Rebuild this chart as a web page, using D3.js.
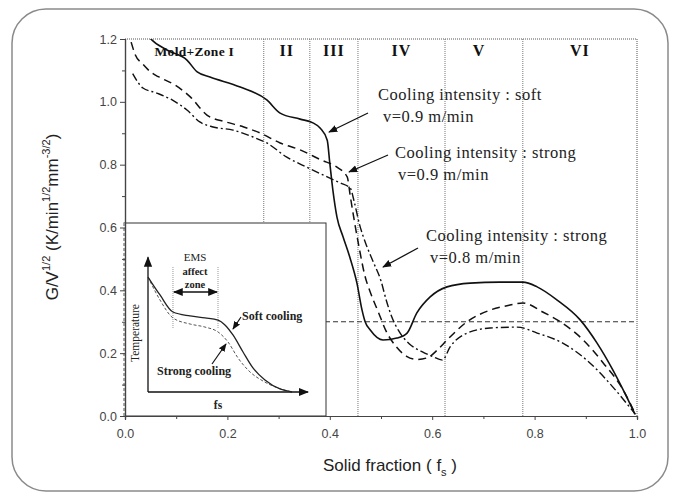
<!DOCTYPE html>
<html>
<head>
<meta charset="utf-8">
<script src="https://cdn.jsdelivr.net/npm/d3@7"></script>
<style>
  body { margin: 0; background: #fff; }
  svg { display: block; }
  .tick text { font-family: "Liberation Sans", Arial, sans-serif; font-size: 12.5px; fill: #444; }
  .axis path, .axis line { stroke: #444; }
</style>
</head>
<body>
<svg id="chart" width="673" height="496"></svg>
<script>
// main curves: [solid fraction, G/V^1/2]
const softV09 = [
  [0.03, 1.25], [0.049, 1.203], [0.082, 1.165], [0.121, 1.133], [0.141, 1.095], [0.166, 1.079],
  [0.225, 1.047], [0.277, 1.006], [0.303, 0.964], [0.342, 0.945], [0.367, 0.933], [0.381, 0.917],
  [0.395, 0.878], [0.400, 0.805], [0.406, 0.719], [0.414, 0.633], [0.426, 0.570], [0.439, 0.506],
  [0.453, 0.423], [0.463, 0.337], [0.469, 0.300], [0.479, 0.274], [0.504, 0.242], [0.531, 0.248],
  [0.551, 0.264], [0.570, 0.328], [0.596, 0.379], [0.629, 0.411], [0.674, 0.423], [0.732, 0.426],
  [0.777, 0.426], [0.805, 0.411], [0.844, 0.369], [0.889, 0.306], [0.922, 0.232], [0.953, 0.146],
  [0.973, 0.083], [0.996, 0.006]
];
const strongV09 = [
  [0.012, 1.19], [0.02, 1.15], [0.035, 1.12], [0.05, 1.095], [0.065, 1.08], [0.098, 1.053],
  [0.128, 1.015], [0.16, 0.958], [0.197, 0.936], [0.232, 0.92], [0.265, 0.9], [0.303, 0.869],
  [0.342, 0.847], [0.383, 0.815], [0.414, 0.792], [0.434, 0.761], [0.44, 0.70], [0.448, 0.62],
  [0.458, 0.53], [0.468, 0.45], [0.48, 0.39], [0.495, 0.33], [0.51, 0.27], [0.53, 0.22],
  [0.55, 0.19], [0.57, 0.18], [0.59, 0.185], [0.61, 0.21], [0.629, 0.242], [0.668, 0.30],
  [0.713, 0.337], [0.752, 0.353], [0.777, 0.36], [0.816, 0.331], [0.85, 0.30], [0.895, 0.242],
  [0.934, 0.169], [0.973, 0.083], [0.997, 0.005]
];
const strongV08 = [
  [0.015, 1.09], [0.035, 1.044], [0.062, 1.028], [0.092, 1.006], [0.121, 0.974], [0.146, 0.936],
  [0.172, 0.92], [0.211, 0.91], [0.25, 0.888], [0.277, 0.869], [0.316, 0.824], [0.355, 0.792],
  [0.395, 0.761], [0.42, 0.742], [0.44, 0.725], [0.448, 0.68], [0.458, 0.61], [0.47, 0.55],
  [0.485, 0.49], [0.5, 0.43], [0.51, 0.37], [0.52, 0.32], [0.535, 0.27], [0.555, 0.23],
  [0.58, 0.205], [0.6, 0.19], [0.62, 0.178], [0.635, 0.22], [0.668, 0.264], [0.713, 0.28],
  [0.766, 0.283], [0.805, 0.264], [0.855, 0.232], [0.908, 0.169], [0.953, 0.092], [0.997, 0.005]
];

// zones
const zoneBounds = [0.271, 0.361, 0.455, 0.625, 0.777];
const zoneLabels = ["Mold+Zone I", "II", "III", "IV", "V", "VI"];
const refLevel = 0.3;

const xTicks = [0, 0.2, 0.4, 0.6, 0.8, 1.0];
const yTicks = [0, 0.2, 0.4, 0.6, 0.8, 1.0, 1.2];

// inset sketch (normalised fs / temperature)
const insetSoft = [
  [0, 0.871], [0.075, 0.735], [0.156, 0.606], [0.263, 0.576], [0.356, 0.561], [0.4375, 0.545],
  [0.481, 0.508], [0.531, 0.432], [0.594, 0.303], [0.656, 0.182], [0.731, 0.091], [0.825, 0.023], [0.9, 0]
];
const insetStrong = [
  [0, 0.871], [0.075, 0.697], [0.156, 0.561], [0.263, 0.515], [0.356, 0.492], [0.4375, 0.455],
  [0.5, 0.379], [0.5625, 0.258], [0.6375, 0.152], [0.719, 0.083], [0.8125, 0.03], [0.9, 0]
];
const emsZone = [0.156, 0.4375];

const svg = d3.select("#chart");
const serif = '"Liberation Serif", "Times New Roman", serif';
const sans = '"Liberation Sans", Arial, sans-serif';

// outer rounded frame
svg.append("rect")
    .attr("x", 12).attr("y", 9).attr("width", 656).attr("height", 482)
    .attr("rx", 34).attr("fill", "#fff")
    .attr("stroke", "#8a8a8a").attr("stroke-width", 1.5);

const x = d3.scaleLinear().domain([0, 1]).range([125, 637]);
const y = d3.scaleLinear().domain([0, 1.2]).range([416, 39]);

svg.append("defs").append("clipPath").attr("id", "plotClip")
  .append("rect").attr("x", x(0)).attr("y", y(1.2))
  .attr("width", x(1) - x(0)).attr("height", y(0) - y(1.2));

// plot frame top / right (dotted)
svg.append("path")
    .attr("d", `M${x(0)},${y(1.2)}H${x(1)}V${y(0)}`)
    .attr("fill", "none").attr("stroke", "#555").attr("stroke-dasharray", "1,1");

// zone lines
svg.append("g").selectAll("line")
  .data(zoneBounds)
  .enter().append("line")
    .attr("x1", d => x(d)).attr("x2", d => x(d))
    .attr("y1", y(1.2)).attr("y2", y(0))
    .attr("stroke", "#777").attr("stroke-dasharray", "1,1");

const zoneEdges = [0].concat(zoneBounds, [1]);
svg.append("g").selectAll("text")
  .data(zoneLabels)
  .enter().append("text")
    .attr("x", (d, i) => x((zoneEdges[i] + zoneEdges[i + 1]) / 2) - (i === 4 ? 5 : 0))
    .attr("y", 56)
    .attr("text-anchor", "middle")
    .attr("font-family", serif)
    .attr("font-weight", "bold")
    .attr("font-size", (d, i) => i === 0 ? 13.5 : 16)
    .attr("letter-spacing", (d, i) => i === 0 ? 0.3 : 1)
    .attr("fill", "#111")
    .text(d => d);

// horizontal reference line
svg.append("line")
    .attr("x1", x(0)).attr("x2", x(1))
    .attr("y1", y(refLevel)).attr("y2", y(refLevel))
    .attr("stroke", "#333").attr("stroke-dasharray", "5,3");

// curves
const line = d3.line()
    .x(d => x(d[0])).y(d => y(d[1]))
    .curve(d3.curveMonotoneX);

const curves = svg.append("g").attr("clip-path", "url(#plotClip)");
curves.append("path").datum(softV09)
    .attr("d", line).attr("fill", "none").attr("stroke", "#111").attr("stroke-width", 1.6);
curves.append("path").datum(strongV09)
    .attr("d", line).attr("fill", "none").attr("stroke", "#111").attr("stroke-width", 1.5)
    .attr("stroke-dasharray", "8,5");
curves.append("path").datum(strongV08)
    .attr("d", line).attr("fill", "none").attr("stroke", "#111").attr("stroke-width", 1.4)
    .attr("stroke-dasharray", "8,3,2,3");

// inset
const inset = svg.append("g");
inset.append("rect")
    .attr("x", 124).attr("y", 223).attr("width", 202).attr("height", 193)
    .attr("fill", "#fff").attr("stroke", "#333").attr("stroke-width", 1);
inset.append("line")
    .attr("x1", 124).attr("x2", 124).attr("y1", 223).attr("y2", 416)
    .attr("stroke", "#fff").attr("stroke-width", 2);
inset.append("line")
    .attr("x1", 124).attr("x2", 124).attr("y1", 223).attr("y2", 416)
    .attr("stroke", "#555").attr("stroke-dasharray", "3,2");

const ix = d3.scaleLinear().domain([0, 1]).range([148, 308]);
const iy = d3.scaleLinear().domain([0, 1]).range([392, 260]);

const defs = svg.select("defs");
defs.append("marker").attr("id", "tri")
    .attr("viewBox", "0 0 10 10").attr("refX", 9).attr("refY", 5)
    .attr("markerWidth", 8).attr("markerHeight", 8).attr("orient", "auto")
  .append("path").attr("d", "M0,1L10,5L0,9Z").attr("fill", "#111");
defs.append("marker").attr("id", "triS")
    .attr("viewBox", "0 0 10 10").attr("refX", 9).attr("refY", 5)
    .attr("markerWidth", 7).attr("markerHeight", 7).attr("orient", "auto-start-reverse")
  .append("path").attr("d", "M0,1L10,5L0,9Z").attr("fill", "#111");

inset.append("line")
    .attr("x1", ix(0)).attr("y1", iy(0)).attr("x2", ix(0)).attr("y2", iy(1.02))
    .attr("stroke", "#111").attr("stroke-width", 1.3).attr("marker-end", "url(#tri)");
inset.append("line")
    .attr("x1", ix(0)).attr("y1", iy(0)).attr("x2", ix(1)).attr("y2", iy(0))
    .attr("stroke", "#111").attr("stroke-width", 1.3).attr("marker-end", "url(#tri)");

inset.selectAll(".ems").data(emsZone).enter().append("line")
    .attr("x1", d => ix(d)).attr("x2", d => ix(d))
    .attr("y1", 267).attr("y2", 328)
    .attr("stroke", "#999").attr("stroke-dasharray", "1,1");
inset.append("line")
    .attr("x1", ix(emsZone[0]) + 1).attr("x2", ix(emsZone[1]) - 1)
    .attr("y1", 292).attr("y2", 292)
    .attr("stroke", "#111").attr("stroke-width", 1.4)
    .attr("marker-start", "url(#triS)").attr("marker-end", "url(#triS)");

const iline = d3.line().x(d => ix(d[0])).y(d => iy(d[1])).curve(d3.curveMonotoneX);
inset.append("path").datum(insetStrong).attr("d", iline)
    .attr("fill", "none").attr("stroke", "#555").attr("stroke-width", 1).attr("stroke-dasharray", "3,2");
inset.append("path").datum(insetSoft).attr("d", iline)
    .attr("fill", "none").attr("stroke", "#222").attr("stroke-width", 1.3);

const itext = (t, px, py, opts = {}) => inset.append("text")
    .attr("x", px).attr("y", py)
    .attr("font-family", serif).attr("font-size", opts.size || 11)
    .attr("font-weight", opts.bold ? "bold" : "normal")
    .attr("text-anchor", opts.anchor || "start")
    .attr("transform", opts.rotate ? `rotate(-90,${px},${py})` : null)
    .attr("fill", "#222").text(t);

itext("EMS", 195, 261, { anchor: "middle", size: 11 });
itext("affect", 195, 275, { anchor: "middle", size: 10.5, bold: true });
itext("zone", 195, 288, { anchor: "middle", size: 10.5, bold: true });
itext("Temperature", 139, 333, { anchor: "middle", size: 11.5, rotate: true });
itext("fs", 218, 409, { anchor: "middle", size: 11.5, bold: true });
itext("Soft cooling", 242, 320, { size: 12, bold: true });
itext("Strong cooling", 157, 375, { size: 12, bold: true });

inset.append("line").attr("x1", 241).attr("y1", 317).attr("x2", 233).attr("y2", 329)
    .attr("stroke", "#111").attr("stroke-width", 1.2).attr("marker-end", "url(#triS)");
inset.append("line").attr("x1", 212).attr("y1", 364).attr("x2", 226).attr("y2", 344)
    .attr("stroke", "#111").attr("stroke-width", 1.2).attr("marker-end", "url(#triS)");

// axes
svg.append("g").attr("class", "axis")
    .attr("transform", `translate(0,${y(0)})`)
    .call(d3.axisBottom(x).tickValues(xTicks).tickSize(4).tickPadding(9).tickFormat(d3.format(".1f")));
svg.append("g").attr("class", "axis")
    .attr("transform", `translate(0,${y(0)})`)
    .call(d3.axisBottom(x).tickValues(d3.range(0.1, 1, 0.2)).tickSize(3).tickFormat(""));
svg.append("g").attr("class", "axis")
    .attr("transform", `translate(${x(0)},0)`)
    .call(d3.axisLeft(y).tickValues(yTicks).tickSize(5).tickPadding(3).tickFormat(d3.format(".1f")));
svg.append("g").attr("class", "axis")
    .attr("transform", `translate(${x(0)},0)`)
    .call(d3.axisLeft(y).tickValues(d3.range(0.1, 1.2, 0.2)).tickSize(3).tickFormat(""));
svg.selectAll(".axis .domain").attr("stroke", "#444").attr("stroke-width", 1.2);

// annotations
const notes = [
  { lines: ["Cooling intensity : soft", "v=0.9 m/min"], x: 378, y: 100, dx: 5, arrow: [368, 113, 329, 132] },
  { lines: ["Cooling intensity : strong", "v=0.9 m/min"], x: 395, y: 158, dx: 3, arrow: [388, 155, 349, 172] },
  { lines: ["Cooling intensity : strong", "v=0.8 m/min"], x: 426, y: 241, dx: 4, arrow: [418, 248, 383, 267] }
];
const ann = svg.append("g");
notes.forEach(n => {
  ann.append("text").attr("x", n.x).attr("y", n.y)
      .attr("font-family", serif).attr("font-size", 16.5).attr("letter-spacing", 0.5).attr("fill", "#222")
      .text(n.lines[0]);
  ann.append("text").attr("x", n.x + n.dx).attr("y", n.y + 22)
      .attr("font-family", serif).attr("font-size", 16.5).attr("letter-spacing", 0.5).attr("fill", "#222")
      .text(n.lines[1]);
  ann.append("line")
      .attr("x1", n.arrow[0]).attr("y1", n.arrow[1]).attr("x2", n.arrow[2]).attr("y2", n.arrow[3])
      .attr("stroke", "#111").attr("stroke-width", 1.3).attr("marker-end", "url(#triS)");
});

// axis titles
const xt = svg.append("text")
    .attr("x", 390).attr("y", 471).attr("text-anchor", "middle")
    .attr("font-family", sans).attr("font-size", 17).attr("fill", "#222");
xt.append("tspan").text("Solid fraction ( f");
xt.append("tspan").attr("font-size", 11).attr("dy", 5).text("s");
xt.append("tspan").attr("dy", -5).text(" )");

const yt = svg.append("text")
    .attr("transform", "translate(58,217) rotate(-90)")
    .attr("text-anchor", "middle")
    .attr("font-family", sans).attr("font-size", 17).attr("fill", "#222");
yt.append("tspan").text("G/V");
yt.append("tspan").attr("font-size", 11).attr("dy", -8).text("1/2");
yt.append("tspan").attr("dy", 8).text(" (K/min");
yt.append("tspan").attr("font-size", 11).attr("dy", -8).text("1/2");
yt.append("tspan").attr("dy", 8).text("mm");
yt.append("tspan").attr("font-size", 11).attr("dy", -8).text("-3/2");
yt.append("tspan").attr("dy", 8).text(")");
</script>
</body>
</html>
